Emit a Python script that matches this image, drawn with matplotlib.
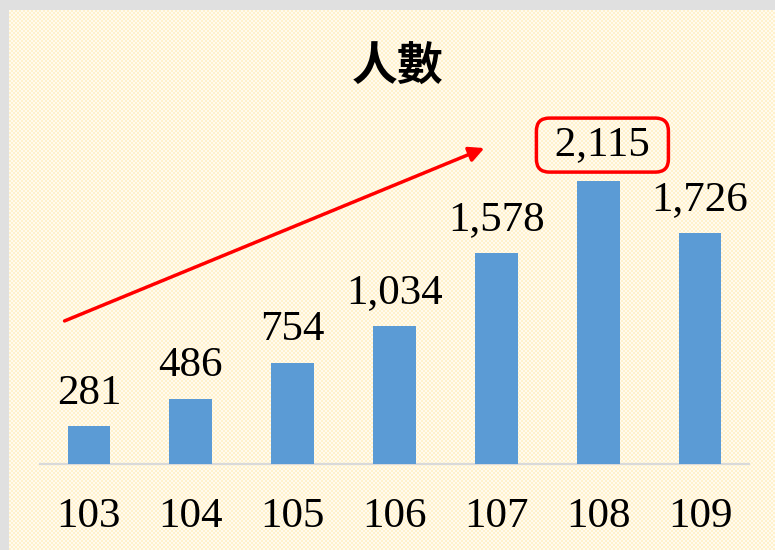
import numpy as np
import matplotlib
matplotlib.use("Agg")
import matplotlib.pyplot as plt
from matplotlib.patches import FancyArrowPatch

years = ["103", "104", "105", "106", "107", "108", "109"]
counts = [281, 486, 754, 1034, 1578, 2115, 1726]
highlight = "108"

W, H = 775, 550
fig = plt.figure(figsize=(W / 100, H / 100), dpi=100)
fig.patch.set_facecolor("#e0e0e0")

# cream checkered panel
ph, pw = H - 10, W - 9
yy, xx = np.mgrid[0:ph, 0:pw]
chk = ((xx // 2 + yy // 2) % 2).astype(float)
c1 = np.array([1.0, 0.949, 0.80])
c2 = np.array([1.0, 0.985, 0.94])
panel = c2 + (c1 - c2) * chk[..., None]
fig.figimage(panel, xo=9, yo=0, origin="upper", zorder=-10)

ax = fig.add_axes([40 / W, (H - 464) / H, 709 / W, 401.4 / H])
ax.set_zorder(5)
ax.patch.set_alpha(0)
x = np.arange(len(years))
ax.bar(x, counts, width=0.42, color="#5b9bd5", zorder=3)
ax.set_xlim(-0.48, len(years) - 0.52)
ax.set_ylim(0, 3000)

for s in ["top", "right", "left"]:
    ax.spines[s].set_visible(False)
ax.spines["bottom"].set_color("#d9d9d9")
ax.spines["bottom"].set_linewidth(1.6)
ax.set_yticks([])
ax.set_xticks(x)
ax.set_xticklabels(years, fontfamily="Liberation Serif", fontsize=31)
ax.tick_params(axis="x", length=0, pad=24)

for xi, yr, v in zip(x, years, counts):
    label = f"{v:,}"
    kw = {}
    off = 10
    if yr == highlight:
        label = f" {label} "
        kw["bbox"] = dict(boxstyle="round,pad=0.18,rounding_size=0.3",
                          fc="none", ec="#ff0000", lw=2.5)
        off = 12
    ax.annotate(label, (xi, v), xytext=(3 if yr == highlight else 0, off),
                textcoords="offset points",
                ha="center", va="bottom", fontfamily="Liberation Serif",
                fontsize=31, **kw)

fig.text(398 / W, 1 - 68 / H, "人數", ha="center", va="center",
         fontfamily=["Noto Sans CJK TC", "DejaVu Sans"], fontweight="bold",
         fontsize=33, zorder=6)

arrow = FancyArrowPatch((62 / W, 1 - 322 / H), (487 / W, 1 - 147 / H),
                        transform=fig.transFigure, arrowstyle="-|>,head_length=9,head_width=4.5",
                        color="#ff0000", lw=2.5, mutation_scale=1, zorder=6)
fig.patches.append(arrow)

fig.savefig("out.png", dpi=100)
